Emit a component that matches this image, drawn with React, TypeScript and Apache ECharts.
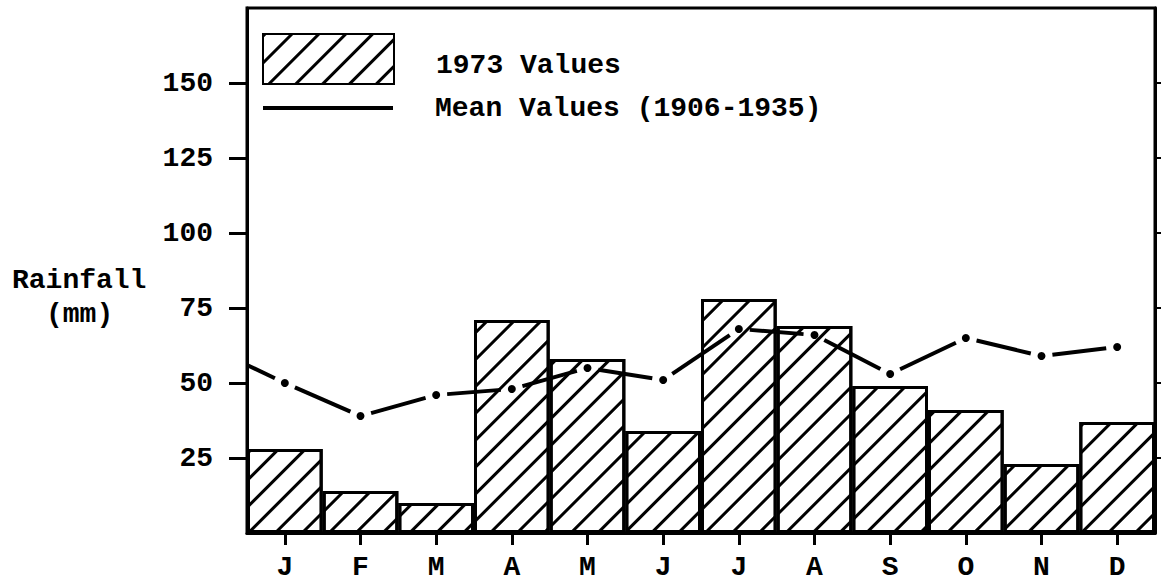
import React, { useEffect, useRef } from 'react';
import * as echarts from 'echarts';

const months = ['J', 'F', 'M', 'A', 'M', 'J', 'J', 'A', 'S', 'O', 'N', 'D'];
const values1973 = [28, 14, 10, 71, 58, 34, 78, 69, 49, 41, 23, 37];
const meanValues = [50, 39, 46, 48, 55, 51, 68, 66, 53, 65, 59, 62];
const meanLeadIn = 56;
const yTickValues = [25, 50, 75, 100, 125, 150];
const barName = '1973 Values';
const meanName = 'Mean Values (1906-1935)';

const FONT = '"Liberation Mono", "DejaVu Sans Mono", monospace';

export default function App() {
  const ref = useRef<HTMLDivElement>(null);
  useEffect(() => {
    if (!ref.current) return;
    const chart = echarts.init(ref.current, undefined, { renderer: 'svg' });
    const textBase = { fontFamily: FONT, fontSize: 28, fontWeight: 'bold' as const, color: '#000' };
    const decal = {
      symbol: 'rect',
      symbolSize: 1,
      dashArrayX: [1, 0],
      dashArrayY: [3, 16],
      rotation: -Math.PI / 4,
      color: '#000',
      backgroundColor: '#fff',
    };
    chart.setOption({
      animation: false,
      backgroundColor: '#fff',
      grid: { left: 247, right: 7, top: 8, bottom: 48, show: true, borderColor: '#000', borderWidth: 3 },
      xAxis: {
        type: 'category',
        data: months,
        boundaryGap: true,
        axisLine: { show: true, lineStyle: { color: '#000', width: 3 } },
        axisTick: { show: true, alignWithLabel: true, length: 12, lineStyle: { color: '#000', width: 3 } },
        axisLabel: { ...textBase, margin: 20 },
        splitLine: { show: false },
      },
      yAxis: [
        {
          type: 'value',
          min: 0,
          max: 175,
          interval: 25,
          position: 'left',
          axisLine: { show: true, lineStyle: { color: '#000', width: 3 } },
          axisTick: { show: true, length: 18, lineStyle: { color: '#000', width: 3 }, customValues: yTickValues },
          axisLabel: { ...textBase, margin: 34, customValues: yTickValues, padding: [0, 0, 10, 0] },
          splitLine: { show: false },
        },
        {
          type: 'value',
          min: 0,
          max: 175,
          interval: 25,
          position: 'right',
          axisLine: { show: true, lineStyle: { color: '#000', width: 3 } },
          axisTick: { show: true, length: 6, lineStyle: { color: '#000', width: 2 }, customValues: yTickValues },
          axisLabel: { show: false },
          splitLine: { show: false },
        },
      ],
      legend: [
        {
          data: [{ name: barName, icon: 'rect' }],
          left: 262,
          top: 33,
          padding: 0,
          itemWidth: 131,
          itemHeight: 50,
          selectedMode: false,
          formatter: (name: string) => `{t|${name}}`,
          textStyle: {
            ...textBase,
            rich: { t: { ...textBase, padding: [12, 0, 0, 37] } },
          },
        },
        {
          data: [{ name: meanName, icon: 'rect', itemStyle: { color: '#000', borderWidth: 0, decal: 'none' } }],
          left: 263,
          top: 94,
          padding: 0,
          itemWidth: 130,
          itemHeight: 4,
          selectedMode: false,
          textStyle: { ...textBase, padding: [0, 0, 0, 37] },
        },
      ],
      graphic: [
        { type: 'text', left: 12, top: 266, style: { text: 'Rainfall', font: `bold 28px ${FONT}`, fill: '#000' } },
        { type: 'text', left: 46, top: 300, style: { text: '(mm)', font: `bold 28px ${FONT}`, fill: '#000' } },
      ],
      series: [
        {
          name: barName,
          type: 'bar',
          data: values1973,
          barCategoryGap: '0%',
          itemStyle: { color: '#fff', borderColor: '#000', borderWidth: 3, decal },
          z: 2,
        },
        {
          name: meanName,
          type: 'custom',
          z: 5,
          itemStyle: { color: '#000' },
          encode: { x: 0, y: 1 },
          data: meanValues.map((v, i) => [i, v, i === 0 ? meanLeadIn : meanValues[i - 1]]),
          renderItem: (params: any, api: any) => {
            const i = api.value(0);
            const v = api.value(1);
            const pv = api.value(2);
            const p1 = api.coord([i, v]);
            let p0: number[];
            if (i === 0) {
              const c = api.coord([0, pv]);
              p0 = [c[0] - api.size([1, 0])[0] / 2, c[1]];
            } else {
              p0 = api.coord([i - 1, pv]);
            }
            const dx = p1[0] - p0[0];
            const dy = p1[1] - p0[1];
            const len = Math.sqrt(dx * dx + dy * dy) || 1;
            const ux = dx / len;
            const uy = dy / len;
            const g0 = i === 0 ? 0 : 11;
            const g1 = 11;
            return {
              type: 'group',
              children: [
                {
                  type: 'line',
                  shape: { x1: p0[0] + ux * g0, y1: p0[1] + uy * g0, x2: p1[0] - ux * g1, y2: p1[1] - uy * g1 },
                  style: { stroke: '#000', lineWidth: 4 },
                },
                { type: 'circle', shape: { cx: p1[0], cy: p1[1], r: 4 }, style: { fill: '#000' } },
              ],
            };
          },
        },
      ],
    });
    return () => chart.dispose();
  }, []);
  return <div ref={ref} style={{ position: 'fixed', left: 0, top: 0, width: 1162, height: 581 }} />;
}
